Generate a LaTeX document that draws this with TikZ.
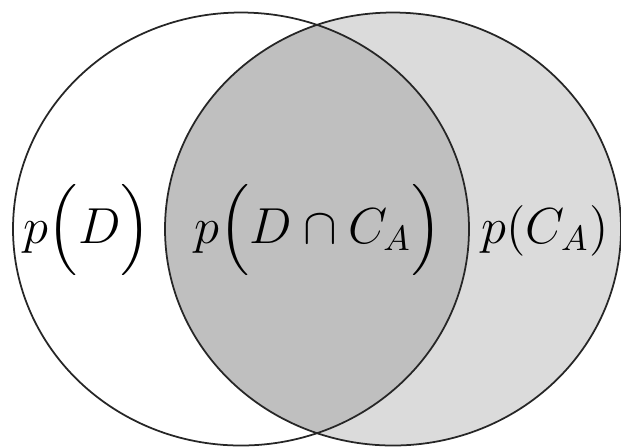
\documentclass[tikz,border=0pt]{standalone}
\usepackage{tikz}
\usepackage{amsmath}

\definecolor{onlyca}{gray}{0.86}
\definecolor{bothset}{gray}{0.75}

\begin{document}
\begin{tikzpicture}[setline/.style={draw=black!85, line width=0.5pt},
  lbl/.style={anchor=base, font=\Large, inner sep=0pt}]
\useasboundingbox (0,0) rectangle (6.21,4.46);
% sets D and C_A
\fill[white] (2.41,2.17) ellipse [x radius=2.28, y radius=2.165];
\fill[onlyca] (3.93,2.17) ellipse [x radius=2.28, y radius=2.165];
% intersection
\begin{scope}
  \clip (2.41,2.17) ellipse [x radius=2.28, y radius=2.165];
  \fill[bothset] (3.93,2.17) ellipse [x radius=2.28, y radius=2.165];
\end{scope}
\draw[setline] (2.41,2.17) ellipse [x radius=2.28, y radius=2.165];
\draw[setline] (3.93,2.17) ellipse [x radius=2.28, y radius=2.165];

% labels
\node[lbl] (pD) at (0.87,2.03) {$p\Bigl(D\Bigr)$};
\node[lbl] (pDC) at (3.18,2.03) {$p\Bigl(D\cap C_A\Bigr)$};
\node[lbl] (pC) at (5.45,2.03) {$p(C_A)$};
\end{tikzpicture}
\end{document}
